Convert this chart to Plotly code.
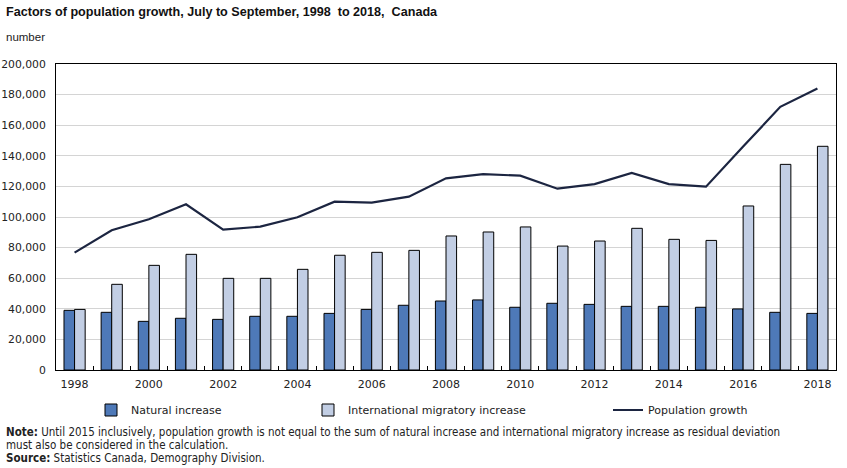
import plotly.graph_objects as go

years = list(range(1998, 2019))
natural_increase = [39000, 37700, 31800, 33800, 33100, 35100, 35100, 37000, 39600, 42300,
                    45100, 45800, 41000, 43600, 42900, 41600, 41600, 41000, 39900, 37700, 37000]
international_migratory = [39600, 56000, 68400, 75600, 59900, 59900, 65800, 75000, 76900, 78200,
                           87600, 90200, 93500, 81000, 84300, 92600, 85400, 84700, 107200, 134400, 146200]
population_growth = [76700, 91300, 98500, 108300, 91700, 93700, 99800, 110000, 109400, 113300,
                     125300, 128000, 127000, 118500, 121500, 128800, 121500, 119800, 146000, 172000, 184000]
x_tick_labels = [str(y) for y in range(1998, 2019, 2)]

W, H = 847, 468
L, R, T, B = 56, 836, 64, 370

def xp(sx):
    return (sx - L) / (R - L)
def yp(sy):
    return (B - sy) / (B - T)
def xc(sx):
    return sx / W
def yc(sy):
    return 1 - sy / H

font_main = "DejaVu Sans, Verdana, sans-serif"
font_note = "DejaVu Sans Condensed, DejaVu Sans, sans-serif"
font_title = "Liberation Sans, Arial, sans-serif"

fig = go.Figure()
fig.add_trace(go.Bar(x=years, y=natural_increase, name="Natural increase",
                     marker=dict(color="#4E79B8", line=dict(color="#000000", width=1)),
                     legend="legend"))
fig.add_trace(go.Bar(x=years, y=international_migratory, name="International migratory increase",
                     marker=dict(color="#C2CEE4", line=dict(color="#000000", width=1)),
                     legend="legend2"))
fig.add_trace(go.Scatter(x=years, y=population_growth, name="Population growth", mode="lines",
                         line=dict(color="#1C2541", width=2.2), legend="legend3"))

legend_common = dict(orientation="h", yanchor="middle", xanchor="left", bgcolor="rgba(0,0,0,0)",
                     xref="container", yref="container",
                     font=dict(size=11, color="#222222", family=font_main))

fig.update_layout(
    width=W, height=H,
    margin=dict(l=L, r=W - R, t=T, b=H - B, autoexpand=False),
    paper_bgcolor="white", plot_bgcolor="white",
    showlegend=True,
    barmode="group", bargap=0.43, bargroupgap=0.0,
    font=dict(family=font_main, size=11, color="#222222"),
    legend=dict(x=xc(91), y=yc(410), **legend_common),
    legend2=dict(x=xc(308), y=yc(410), **legend_common),
    legend3=dict(x=xc(608), y=yc(410), **legend_common),
    xaxis=dict(range=[1997.5, 2018.5], tickmode="array", tickvals=list(range(1998, 2019, 2)),
               ticktext=x_tick_labels, ticks="", showgrid=False, zeroline=False,
               showline=True, linecolor="#000000", linewidth=1, mirror=True,
               ticklabelstandoff=4,
               tickfont=dict(size=11, color="#222222", family=font_main),
               minor=dict(tickmode="array", tickvals=[y + 0.5 for y in range(1998, 2018)],
                          ticks="inside", ticklen=4, tickcolor="#000000", showgrid=False)),
    yaxis=dict(range=[0, 200000], dtick=20000, tickformat=",", showgrid=True,
               gridcolor="#D4D4D4", gridwidth=1, zeroline=False,
               showline=True, linecolor="#000000", linewidth=1, mirror=True,
               ticks="", ticklabelstandoff=7,
               tickfont=dict(size=10.8, color="#222222", family=font_main)),
)

note_font = dict(size=11.5, color="#222222", family=font_note)
annos = [
    dict(text="<b>Factors of population growth, July to September, 1998  to 2018,  Canada</b>",
         x=xp(4), y=yp(12), font=dict(size=12.6, color="#111111", family=font_title)),
    dict(text="number", x=xp(4), y=yp(37), font=dict(size=11.5, color="#222222", family=font_title)),
    dict(text="<b>Note:</b> Until 2015 inclusively, population growth is not equal to the sum of natural increase and international migratory increase as residual deviation",
         x=xp(4), y=yp(432), font=note_font),
    dict(text="must also be considered in the calculation.", x=xp(4), y=yp(445), font=note_font),
    dict(text="<b>Source:</b> Statistics Canada, Demography Division.", x=xp(4), y=yp(458), font=note_font),
]
for a in annos:
    fig.add_annotation(xref="paper", yref="paper", xanchor="left", yanchor="middle",
                       showarrow=False, **a)

fig.write_html("out.html", config={"displayModeBar": False},
               post_script="document.body.style.margin='0px';")
